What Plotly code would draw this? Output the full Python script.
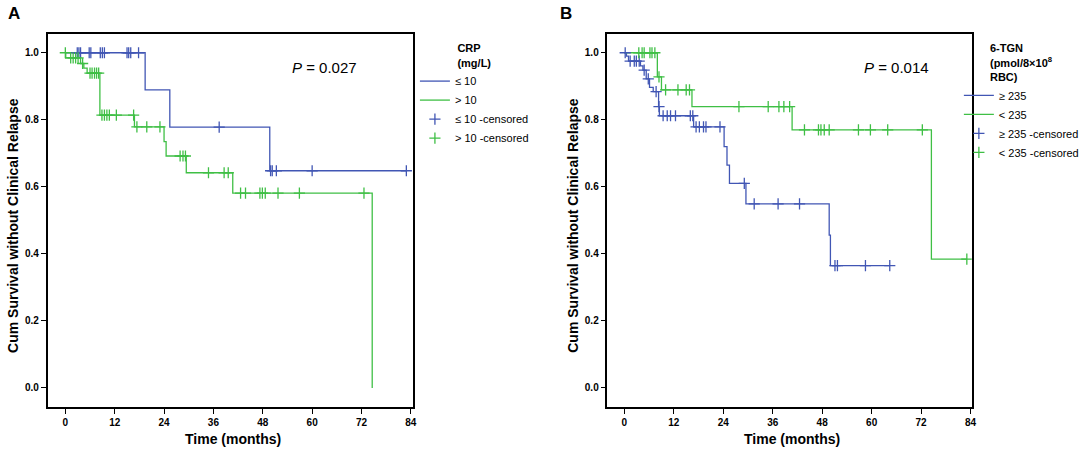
import plotly.graph_objects as go
from plotly.subplots import make_subplots

# Panel A: CRP (mg/L)
a_low_times = [19.4, 25.4, 49.7]
a_low_surv = [0.889, 0.778, 0.648]
a_low_cens = [2.9, 3.3, 3.7, 5.8, 6.2, 8.5, 9.0, 9.5, 15.0, 15.4, 15.9, 17.8,
              37.4, 49.9, 50.3, 51.3, 60.0, 82.9]

a_high_times = [0.1, 3.7, 4.5, 5.3, 8.4, 16.8, 24.0, 24.5, 29.4, 40.7, 74.6]
a_high_surv = [0.985, 0.968, 0.954, 0.939, 0.814, 0.779, 0.735, 0.692, 0.642, 0.581, 0.0]
a_high_cens = [0.0, 1.3, 1.9, 2.5, 3.1, 4.2, 6.0, 6.5, 7.1, 7.6, 8.1, 8.9, 9.5, 10.1,
               10.7, 12.4, 16.6, 17.4, 19.8, 23.0, 27.9, 28.6, 29.2, 34.8, 38.6, 39.6,
               42.6, 43.8, 47.3, 47.9, 48.6, 51.7, 56.9, 72.6]

# Panel B: 6-TGN
b_high_times = [0.5, 1.0, 3.9, 4.5, 5.3, 6.1, 7.0, 8.3, 8.5, 16.8, 24.2, 24.9, 25.5,
                29.5, 49.7, 50.0]
b_high_surv = [0.990, 0.975, 0.961, 0.948, 0.922, 0.897, 0.884, 0.839, 0.812, 0.779,
               0.720, 0.665, 0.610, 0.549, 0.456, 0.365]
b_high_cens = [0.2, 1.4, 2.4, 2.9, 3.6, 4.8, 5.8, 7.7, 8.4, 9.4, 10.4, 11.2, 12.4, 16.0,
               16.6, 17.4, 18.2, 19.2, 19.8, 23.2, 29.1, 31.5, 37.3, 42.5, 51.1, 51.7,
               58.5, 64.4]

b_low_times = [8.0, 9.0, 16.4, 40.7, 74.5]
b_low_surv = [0.928, 0.889, 0.839, 0.770, 0.384]
b_low_cens = [3.5, 4.3, 4.8, 6.2, 6.7, 7.4, 8.4, 10.0, 13.0, 15.0, 15.8, 27.8, 34.9,
              37.5, 38.7, 40.1, 43.7, 47.1, 47.7, 48.5, 49.7, 56.8, 59.7, 63.9, 72.3, 83.1]

x_ticks = [0, 12, 24, 36, 48, 60, 72, 84]
y_ticks = [0.0, 0.2, 0.4, 0.6, 0.8, 1.0]

BLUE = "#4156b4"
GREEN = "#3fbf45"
FONT = "Liberation Sans"
W, H = 1084, 449


def surv_at(t, times, surv):
    s = 1.0
    for ti, si in zip(times, surv):
        if ti <= t:
            s = si
    return s


def add_group(fig, col, times, surv, cens, color, name, legend):
    end = max([times[-1]] + cens)
    xs = [0] + times + [end]
    ys = [1.0] + surv + [surv[-1]]
    fig.add_trace(go.Scatter(x=xs, y=ys, mode="lines", line=dict(color=color, width=1.3, shape="hv"),
                             name=name, legend=legend, hoverinfo="skip"), row=1, col=col)
    return [surv_at(t, times, surv) for t in cens]


fig = make_subplots(rows=1, cols=2)

groups = [
    (1, a_low_times, a_low_surv, a_low_cens, BLUE, "≤ 10", "legend"),
    (1, a_high_times, a_high_surv, a_high_cens, GREEN, "> 10", "legend"),
    (2, b_high_times, b_high_surv, b_high_cens, BLUE, "≥ 235", "legend2"),
    (2, b_low_times, b_low_surv, b_low_cens, GREEN, "&lt; 235", "legend2"),
]
cens_y = []
for g in groups:
    cens_y.append(add_group(fig, *g))
for g, cy in zip(groups, cens_y):
    col, times, surv, cens, color, name, legend = g
    fig.add_trace(go.Scatter(x=cens, y=cy, mode="markers", name=name + " -censored", legend=legend,
                             marker=dict(symbol="cross-thin", size=8, line=dict(color=color, width=1.3)),
                             hoverinfo="skip"), row=1, col=col)


def px(v):
    return v / W


def py(v):
    return 1 - v / H


axis_common = dict(showgrid=False, zeroline=False, showline=True, linecolor="black", linewidth=1.5,
                   mirror=True, ticks="outside", ticklen=5, tickwidth=1.3, tickcolor="black",
                   tickfont=dict(family=FONT, size=10, color="black", weight="bold"))

fig.update_xaxes(**axis_common, tickvals=x_ticks)
fig.update_yaxes(**axis_common, tickvals=y_ticks, tickformat=".1f", range=[-0.057, 1.056])
fig.update_layout(
    xaxis=dict(domain=[px(48), px(416)], range=[-4.3, 84.5]),
    xaxis2=dict(domain=[px(612), px(979)], range=[-4.1, 84.3]),
    yaxis=dict(domain=[py(407), py(34)]),
    yaxis2=dict(domain=[py(407), py(34)]),
)

legend_common = dict(bgcolor="rgba(0,0,0,0)", font=dict(family=FONT, size=11, color="black"),
                     itemwidth=30, tracegroupgap=0, yanchor="top", xanchor="left")
fig.update_layout(
    width=W, height=H,
    margin=dict(l=0, r=0, t=0, b=0),
    plot_bgcolor="white", paper_bgcolor="white",
    font=dict(family=FONT, color="black"),
    legend=dict(**legend_common, x=px(418), y=py(38),
                title=dict(text="CRP<br>(mg/L)", side="top center",
                           font=dict(family=FONT, size=11, weight="bold"))),
    legend2=dict(**legend_common, x=px(966), y=py(38),
                 title=dict(text="6-TGN<br>(pmol/8×10<sup>8</sup><br>RBC)", side="top center",
                            font=dict(family=FONT, size=11, weight="bold"))),
)

ann = [
    dict(text="<b>A</b>", x=px(14), y=py(13), font=dict(size=17)),
    dict(text="<b>B</b>", x=px(570), y=py(13), font=dict(size=17)),
    dict(text="<i>P</i> = 0.027", x=px(327), y=py(67), font=dict(size=15)),
    dict(text="<i>P</i> = 0.014", x=px(903), y=py(67), font=dict(size=15)),
    dict(text="<b>Time (months)</b>", x=px(235), y=py(439), font=dict(size=14)),
    dict(text="<b>Time (months)</b>", x=px(798), y=py(439), font=dict(size=14)),
    dict(text="<b>Cum Survival without Clinical Relapse</b>", x=px(13), y=py(225), textangle=-90,
         font=dict(size=14)),
    dict(text="<b>Cum Survival without Clinical Relapse</b>", x=px(577), y=py(225), textangle=-90,
         font=dict(size=14)),
]
for a in ann:
    a["font"]["family"] = FONT
    a["font"]["color"] = "black"
    fig.add_annotation(xref="paper", yref="paper", showarrow=False,
                       xanchor="center", yanchor="middle", **a)

fig.write_html("out.html", config={"displayModeBar": False},
               post_script="document.body.style.margin='0';")
